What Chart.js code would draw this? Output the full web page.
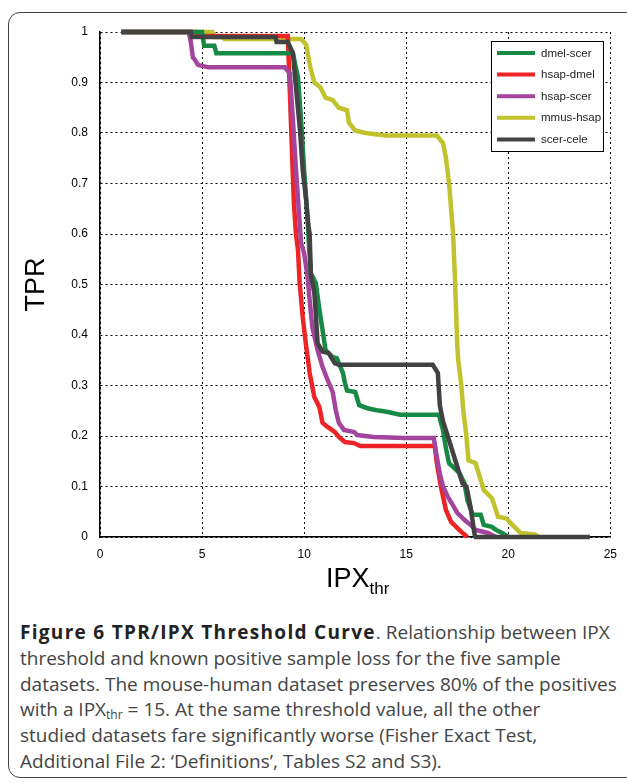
<!DOCTYPE html>
<html>
<head>
<meta charset="utf-8">
<script src="https://cdn.jsdelivr.net/npm/chart.js@4.4.0/dist/chart.umd.min.js"></script>
<style>
  html, body { margin: 0; padding: 0; background: #fff; }
  body { width: 627px; height: 783px; position: relative; overflow: hidden; }
  #moldura {
    position: absolute; left: 8px; top: 12px; width: 630px; height: 766px;
    border: 1.5px solid #444; border-radius: 12px; box-sizing: border-box;
  }
  #grafico { position: absolute; left: 0; top: 0; }
  #titulo-x {
    position: absolute; left: 326px; top: 563px;
    font-family: "Liberation Sans", Arial, sans-serif; font-size: 27px; color: #000;
    white-space: nowrap;
  }
  #titulo-x sub { font-size: 17px; vertical-align: -7px; }
  #legenda-fig {
    position: absolute; left: 20px; top: 620px;
    font-family: "Open Sans", sans-serif; font-size: 19px; line-height: 25.8px;
    color: #444; white-space: nowrap;
  }
  #legenda-fig b { color: #222; letter-spacing: 1.3px; }
  #legenda-fig sub { font-size: 12px; vertical-align: -3px; line-height: 0; }
</style>
</head>
<body>
<div id="moldura"></div>
<canvas id="grafico" width="627" height="610"></canvas>
<div id="titulo-x">IPX<sub>thr</sub></div>
<div id="legenda-fig">
  <b>Figure 6 TPR/IPX Threshold Curve</b>. Relationship between IPX<br>
  threshold and known positive sample loss for the five sample<br>
  datasets. The mouse-human dataset preserves 80% of the positives<br>
  with a IPX<sub>thr</sub> = 15. At the same threshold value, all the other<br>
  studied datasets fare significantly worse (Fisher Exact Test,<br>
  Additional File 2: ‘Definitions’, Tables S2 and S3).
</div>
<script>
// Nomes das séries (ordem da legenda)
const series = ['dmel-scer', 'hsap-dmel', 'hsap-scer', 'mmus-hsap', 'scer-cele'];
const cores = ['#168a45', '#ee2326', '#a3449d', '#c2c22e', '#424242'];

// Ticks dos eixos
const ticksX = [0, 5, 10, 15, 20, 25];
const ticksY = [0, 0.1, 0.2, 0.3, 0.4, 0.5, 0.6, 0.7, 0.8, 0.9, 1];

// dmel-scer
const dmelScerX = [1.05, 5.0, 5.1, 5.6, 5.7, 9.45, 9.7, 9.85, 10.0, 10.17, 10.25, 10.33, 10.57, 10.75, 10.9, 11.05, 11.4, 11.6, 11.9, 12.0, 12.1, 12.5, 12.7, 13.1, 13.55, 14.05, 14.7, 16.6, 16.8, 16.95, 17.1, 17.35, 17.6, 17.85, 18.0, 18.25, 18.65, 18.8, 19.2, 19.4, 19.7, 20.0];
const dmelScerY = [1, 1, 0.973, 0.973, 0.958, 0.958, 0.91, 0.826, 0.727, 0.628, 0.568, 0.522, 0.503, 0.45, 0.41, 0.37, 0.356, 0.354, 0.325, 0.305, 0.29, 0.287, 0.261, 0.255, 0.251, 0.248, 0.242, 0.242, 0.212, 0.175, 0.146, 0.137, 0.127, 0.107, 0.073, 0.044, 0.044, 0.024, 0.02, 0.014, 0.008, 0];

// hsap-dmel
const hsapDmelX = [1.05, 4.7, 4.75, 9.2, 9.5, 9.6, 9.7, 9.78, 9.93, 10.08, 10.27, 10.5, 10.75, 10.9, 11.15, 11.5, 11.7, 12.0, 12.45, 12.75, 16.4, 16.5, 16.7, 16.95, 17.2, 17.45, 17.7, 18.0];
const hsapDmelY = [1, 1, 0.992, 0.992, 0.66, 0.6, 0.568, 0.503, 0.436, 0.384, 0.325, 0.277, 0.257, 0.226, 0.218, 0.208, 0.198, 0.188, 0.186, 0.18, 0.18, 0.146, 0.1, 0.053, 0.03, 0.02, 0.01, 0];

// hsap-scer
const hsapScerX = [1.05, 4.35, 4.45, 4.55, 4.65, 4.8, 5.3, 9.05, 9.3, 9.45, 9.6, 9.75, 9.85, 10.0, 10.17, 10.27, 10.4, 10.66, 10.9, 11.15, 11.4, 11.55, 11.7, 11.95, 12.45, 12.6, 13.4, 14.9, 16.35, 16.5, 16.65, 16.8, 17.05, 17.3, 17.5, 17.85, 18.2, 18.4, 19.0, 19.4];
const hsapScerY = [1, 1, 0.98, 0.95, 0.945, 0.935, 0.93, 0.93, 0.918, 0.826, 0.727, 0.64, 0.582, 0.562, 0.515, 0.469, 0.416, 0.37, 0.337, 0.311, 0.287, 0.251, 0.226, 0.212, 0.208, 0.202, 0.198, 0.196, 0.196, 0.158, 0.125, 0.1, 0.079, 0.062, 0.048, 0.034, 0.022, 0.014, 0.008, 0];

// mmus-hsap
const mmusHsapX = [1.05, 5.5, 5.6, 6.0, 6.1, 9.85, 10.1, 10.3, 10.5, 10.8, 11.05, 11.4, 11.7, 12.1, 12.2, 12.5, 13.0, 14.0, 16.5, 16.8, 16.95, 17.1, 17.3, 17.4, 17.5, 17.55, 17.7, 17.8, 17.95, 18.05, 18.4, 18.8, 19.2, 19.5, 19.9, 20.3, 20.6, 21.3, 21.5];
const mmusHsapY = [1, 1, 0.99, 0.99, 0.986, 0.986, 0.975, 0.93, 0.9, 0.89, 0.87, 0.865, 0.85, 0.845, 0.82, 0.805, 0.8, 0.795, 0.795, 0.78, 0.75, 0.7, 0.6, 0.5, 0.38, 0.35, 0.3, 0.25, 0.2, 0.152, 0.146, 0.093, 0.077, 0.04, 0.037, 0.02, 0.008, 0.005, 0];

// scer-cele
const scerCeleX = [1.05, 4.45, 4.5, 8.6, 8.65, 9.2, 9.45, 9.6, 9.8, 9.93, 10.1, 10.2, 10.27, 10.33, 10.5, 10.57, 10.66, 10.9, 11.2, 11.5, 11.7, 16.3, 16.55, 16.65, 16.8, 17.05, 17.45, 17.75, 17.95, 18.15, 18.35, 18.4, 24.0];
const scerCeleY = [1, 1, 0.99, 0.99, 0.98, 0.98, 0.958, 0.89, 0.805, 0.727, 0.667, 0.62, 0.6, 0.52, 0.483, 0.443, 0.384, 0.367, 0.364, 0.344, 0.341, 0.341, 0.325, 0.26, 0.23, 0.198, 0.146, 0.107, 0.1, 0.06, 0.005, 0, 0];

const valoresX = [dmelScerX, hsapDmelX, hsapScerX, mmusHsapX, scerCeleX];
const valoresY = [dmelScerY, hsapDmelY, hsapScerY, mmusHsapY, scerCeleY];
// ordem de desenho (menor = por cima)
const ordem = [2, 4, 3, 5, 1];

function montarPontos(xs, ys) {
    return xs.map((x, i) => ({ x: x, y: ys[i] }));
}

// Plugin para desenhar a legenda dentro da área do gráfico
const legendaCaixa = {
    id: 'legendaCaixa',
    afterDatasetsDraw(chart) {
        const ctx = chart.ctx;
        const esq = 491, topo = 41, larg = 112, alt = 110;
        ctx.save();
        ctx.fillStyle = '#fff';
        ctx.fillRect(esq, topo, larg, alt);
        ctx.strokeStyle = '#000';
        ctx.lineWidth = 1;
        ctx.strokeRect(esq + 0.5, topo + 0.5, larg, alt);
        ctx.font = '11.5px "Liberation Sans", Arial, sans-serif';
        ctx.textBaseline = 'middle';
        chart.data.datasets.forEach((ds, i) => {
            const y = 53 + i * 21.6;
            ctx.strokeStyle = ds.borderColor;
            ctx.lineWidth = 4;
            ctx.beginPath();
            ctx.moveTo(497, y);
            ctx.lineTo(535, y);
            ctx.stroke();
            ctx.fillStyle = '#222';
            ctx.fillText(ds.label, 541, y + 0.5);
        });
        ctx.restore();
    }
};

const ctxGrafico = document.getElementById('grafico');
new Chart(ctxGrafico, {
    type: 'line',
    data: {
        datasets: series.map((nome, i) => ({
            label: nome,
            data: montarPontos(valoresX[i], valoresY[i]),
            borderColor: cores[i],
            backgroundColor: cores[i],
            borderWidth: 4.5,
            pointRadius: 0,
            tension: 0,
            clip: false,
            order: ordem[i]
        }))
    },
    options: {
        responsive: false,
        animation: false,
        devicePixelRatio: 1,
        layout: { padding: { top: 32, right: 11, left: 0, bottom: 0 } },
        plugins: {
            legend: { display: false },
            tooltip: { enabled: false }
        },
        scales: {
            x: {
                type: 'linear',
                min: 0,
                max: 25,
                afterFit(escala) { escala.height = 73; },
                afterBuildTicks(escala) { escala.ticks = ticksX.map(v => ({ value: v })); },
                ticks: {
                    color: '#000',
                    padding: 10,
                    font: { family: '"Liberation Sans", Arial, sans-serif', size: 12 }
                },
                grid: { color: '#000', lineWidth: 1, drawTicks: false },
                border: { display: true, color: '#000', width: 1.5, dash: [2, 3] }
            },
            y: {
                type: 'linear',
                min: 0,
                max: 1,
                afterFit(escala) { escala.width = 100; },
                afterBuildTicks(escala) { escala.ticks = ticksY.map(v => ({ value: v })); },
                ticks: {
                    color: '#000',
                    padding: 12,
                    font: { family: '"Liberation Sans", Arial, sans-serif', size: 12 },
                    callback: v => String(+v.toFixed(1))
                },
                title: {
                    display: true,
                    text: 'TPR',
                    color: '#000',
                    padding: { top: 20, bottom: 0 },
                    font: { family: '"Liberation Sans", Arial, sans-serif', size: 27 }
                },
                grid: { color: '#000', lineWidth: 1, drawTicks: false },
                border: { display: true, color: '#000', width: 1.5, dash: [2, 3] }
            }
        }
    },
    plugins: [legendaCaixa]
});
</script>
</body>
</html>
